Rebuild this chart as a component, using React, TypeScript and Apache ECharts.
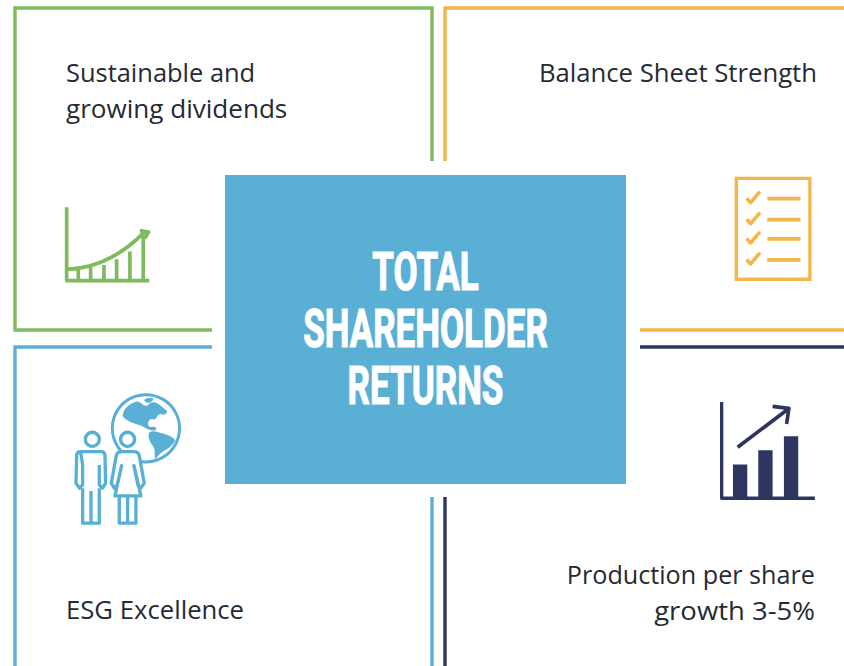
import React, { useEffect, useRef } from "react";
import * as echarts from "echarts";

const TITLE_LINES = ["TOTAL", "SHAREHOLDER", "RETURNS"];
const TOP_LEFT_LINES = ["Sustainable and", "growing dividends"];
const TOP_RIGHT_LINES = ["Balance Sheet Strength"];
const BOTTOM_LEFT_LINES = ["ESG Excellence"];
const BOTTOM_RIGHT_LINES = ["Production per share", "growth 3-5%"];

const GREEN = "#7dbb5c";
const ORANGE = "#f4b649";
const BLUE = "#5aafd4";
const NAVY = "#2f3561";
const INK = "#262b33";
const BODY_FONT = "Open Sans";

const reg = (name: string, d: string) =>
  echarts.graphic.registerShape(name, echarts.graphic.extendPath(d, {}) as any);

// Icons are traced in a 3x coordinate space and scaled down.
reg("iconGrowth", "M50 52V272M46 272H298M50 238C120 236 200 212 285 125M85 238V272M122 232V272M162 225V272M200 208V272M240 185V272M280 135V272M270 122L296 126L284 146");
reg("iconChecks", "M80 100L92 113L120 80M142 101H242M80 163L92 176L120 143M142 164H242M80 221L92 234L120 201M142 222H242M80 284L92 297L120 264M142 285H242");
reg("iconMan", "M62 200H123Q135 200 135 212L137 295L127 310L118 300V240M118 310V415H68V310M93 318V415M68 240V300L59 310L48 295L50 212Q50 200 62 200Z");
reg("iconWoman", "M184 200H222Q235 200 238 212L253 295L242 310L234 300L222 242L243 333H165L185 242L172 300L163 310L154 295L169 212Q172 200 184 200ZM178 333V415H228V333M203 333V415");
reg("iconLand", "M188 90C192 70 205 58 228 50C240 46 248 62 258 62C268 66 262 50 285 52C300 58 308 68 322 78C320 88 312 92 306 88C298 84 294 90 288 100C284 108 276 98 270 104C262 112 262 122 272 126C284 124 296 128 286 136C276 138 262 134 252 126C240 118 226 118 210 110C200 104 190 100 188 90ZM268 142C282 134 296 142 310 146C322 150 336 154 346 166C340 180 326 190 316 196C306 202 296 208 286 224C282 206 288 194 278 182C270 170 262 156 268 142ZM252 46C258 38 270 38 280 40C282 48 270 54 262 54Z");
reg("iconBars", "M84 224H127V322H84ZM160 181H203V322H160ZM237 139H280V322H237Z");
reg("iconRise", "M98 172L250 57M203 49L252 55L245 102");
reg("iconAxes", "M50 36V325H330");

const frame = (points: number[][], color: string) => ({
  type: "polyline",
  shape: { points },
  style: { stroke: color, lineWidth: 3.4, fill: "none" },
  silent: true,
});

// Each line takes its horizontal stretch from the matching entry of stretch.
const textLines = (
  lines: string[],
  x: number,
  firstY: number,
  align: string,
  stretch: number[] = []
) =>
  lines.map((text, i) => ({
    type: "text",
    x,
    y: firstY + i * 36,
    scaleX: stretch[i] ?? 1,
    style: {
      text,
      fontFamily: BODY_FONT,
      fontSize: 25.7,
      fill: INK,
      align,
      verticalAlign: "middle",
    },
  }));

const icon = (x: number, y: number, children: any[]) => ({
  type: "group",
  x,
  y,
  scaleX: 1 / 3,
  scaleY: 1 / 3,
  children,
});

const stroked = (type: string, color: string, width: number, fill = "none") => ({
  type,
  style: { stroke: color, lineWidth: width, fill, lineJoin: "round" },
});

export default function App() {
  const ref = useRef<HTMLDivElement>(null);
  useEffect(() => {
    document.body.style.margin = "0";
    const chart = echarts.init(ref.current!, null, { renderer: "svg" });
    chart.setOption({
      animation: false,
      backgroundColor: "#ffffff",
      graphic: [
        frame([[432, 161], [432, 8], [15, 8], [15, 330], [212, 330]], GREEN),
        frame([[445, 161], [445, 8], [844, 8]], ORANGE),
        frame([[640, 330], [844, 330]], ORANGE),
        frame([[212, 347], [15, 347], [15, 666]], BLUE),
        frame([[432, 497], [432, 666]], BLUE),
        frame([[640, 347], [844, 347]], NAVY),
        frame([[445, 497], [445, 666]], NAVY),
        {
          type: "rect",
          shape: { x: 225, y: 175, width: 401, height: 309 },
          style: { fill: BLUE },
        },
        ...TITLE_LINES.map((text, i) => ({
          type: "text",
          x: 425.5,
          y: 272 + i * 57,
          scaleX: 0.66,
          style: {
            text,
            fontFamily: "Roboto",
            fontWeight: "bold",
            fontSize: 53,
            fill: "#ffffff",
            stroke: "#ffffff",
            lineWidth: 1.2,
            align: "center",
            verticalAlign: "middle",
          },
        })),
        ...textLines(TOP_LEFT_LINES, 66, 72, "left", [0.99, 1.015]),
        ...textLines(TOP_RIGHT_LINES, 817, 72, "right"),
        ...textLines(BOTTOM_LEFT_LINES, 66, 609, "left"),
        ...textLines(BOTTOM_RIGHT_LINES, 815, 574, "right", [0.98, 1.07]),
        icon(50, 190, [stroked("iconGrowth", GREEN, 11)]),
        icon(720, 165, [
          {
            type: "rect",
            shape: { x: 49, y: 40, width: 221, height: 303 },
            style: { stroke: ORANGE, lineWidth: 10, fill: "none" },
          },
          stroked("iconChecks", ORANGE, 11),
        ]),
        icon(60, 385, [
          {
            type: "circle",
            shape: { cx: 258, cy: 130, r: 101 },
            style: { stroke: BLUE, lineWidth: 9, fill: "#ffffff" },
          },
          { type: "iconLand", style: { fill: BLUE } },
          {
            type: "circle",
            shape: { cx: 97, cy: 163, r: 21 },
            style: { stroke: BLUE, lineWidth: 10, fill: "#ffffff" },
          },
          {
            type: "circle",
            shape: { cx: 203, cy: 163, r: 21 },
            style: { stroke: BLUE, lineWidth: 10, fill: "#ffffff" },
          },
          stroked("iconMan", BLUE, 10),
          stroked("iconWoman", BLUE, 10, "#ffffff"),
        ]),
        icon(705, 390, [
          { type: "iconBars", style: { fill: NAVY } },
          stroked("iconRise", NAVY, 11),
          stroked("iconAxes", NAVY, 10),
        ]),
      ],
    });
    return () => chart.dispose();
  }, []);
  return <div ref={ref} style={{ width: 844, height: 666 }} />;
}
